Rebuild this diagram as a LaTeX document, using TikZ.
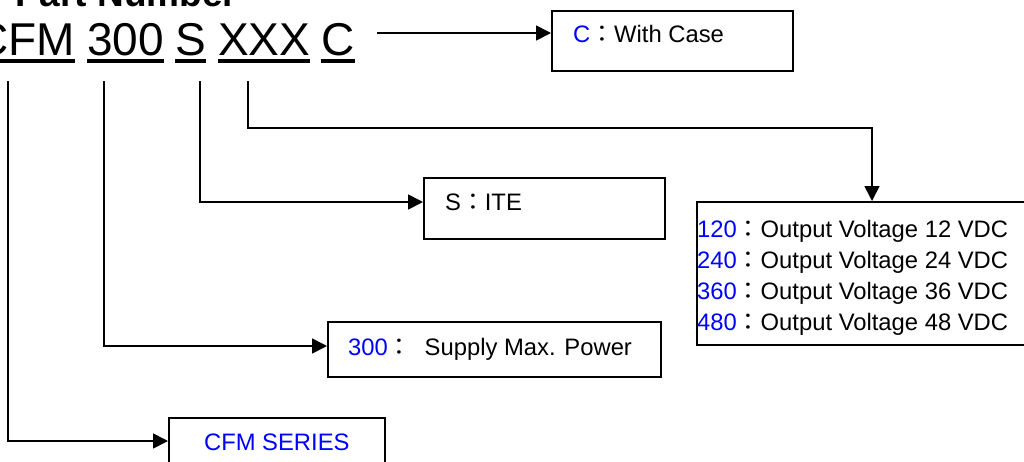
\documentclass[tikz,border=0pt]{standalone}
\usepackage{fontspec}
\setmainfont{Liberation Sans}
\newfontfamily\cjk{Noto Sans CJK TC}
\usetikzlibrary{arrows.meta}
\definecolor{pblue}{RGB}{0,0,255}
\newcommand{\fwc}{{\cjk ：}}
\begin{document}
\begin{tikzpicture}[x=1pt,y=-1pt,
  box/.style={draw, line width=1.6pt, inner sep=0, anchor=north west},
  conn/.style={line width=1.7pt, -{Triangle[length=15pt,width=15pt]}},
  uline/.style={line width=3.5pt},
  word/.style={font=\fontsize{46}{50}\selectfont, inner sep=0, anchor=base west},
  txt/.style={font=\fontsize{23.8}{28}\selectfont, inner sep=0, anchor=base west}]
\clip (0,0) rectangle (1024,461);
\fill[white] (0,0) rectangle (1024,461);

% title
\node[font=\bfseries\fontsize{37}{40}\selectfont, inner sep=0, anchor=base west] (title) at (15,6) {Part Number};

% part number words
\node[word] (wCFM) at (-24.6,55) {CFM};
\node[word] (w300) at (87,55) {300};
\node[word] (wS) at (175,55) {S};
\node[word] (wX) at (218,55) {XXX};
\node[word] (wC) at (321,55) {C};
\foreach \w in {wCFM,w300,wS,wX,wC}
  \draw[uline] ([yshift=-6pt]\w.base west) -- ([yshift=-6pt]\w.base east);

% boxes
\node[box, minimum width=241pt, minimum height=60pt] (bC) at (551,10) {};
\node[box, minimum width=241pt, minimum height=61pt] (bS) at (423,177) {};
\node[box, minimum width=334pt, minimum height=143pt] (bV) at (696,201) {};
\node[box, minimum width=333pt, minimum height=55pt] (b300) at (327,321) {};
\node[box, minimum width=216pt, minimum height=48pt, text=pblue,
      font=\fontsize{23.8}{28}\selectfont] (bCFM) at (168,417) {CFM SERIES};

% box texts
\node[txt] (tC) at (573,42) {\textcolor{pblue}{C}\fwc With Case};
\node[txt] (tS) at (445,210) {S\fwc ITE};
\node[txt] (t300) at (348,355) {\textcolor{pblue}{300}\fwc\hspace{13pt}Supply Max. Power};
\begin{scope}
  \clip (690,190) rectangle (1024,334);
  \node[txt] (v1) at (697,237) {\textcolor{pblue}{120}\fwc Output Voltage 12 VDC};
  \node[txt] (v2) at (697,268) {\textcolor{pblue}{240}\fwc Output Voltage 24 VDC};
  \node[txt] (v3) at (697,299) {\textcolor{pblue}{360}\fwc Output Voltage 36 VDC};
  \node[txt] (v4) at (697,330) {\textcolor{pblue}{480}\fwc Output Voltage 48 VDC};
\end{scope}

% connector points
\coordinate (sC) at (377,33);
\coordinate (sCFM) at (8,81);
\coordinate (cCFM) at (8,441);
\coordinate (s300) at (104,81);
\coordinate (c300) at (104,346);
\coordinate (sS) at (200,81);
\coordinate (cS) at (200,202);
\coordinate (sX) at (248,81);
\coordinate (cX) at (248,128);
\coordinate (tX) at (872,128);

% connectors
\draw[conn] (sC) -- (sC -| bC.west);
\draw[conn] (sCFM) -- (cCFM) -- (cCFM -| bCFM.west);
\draw[conn] (s300) -- (c300) -- (c300 -| b300.west);
\draw[conn] (sS) -- (cS) -- (cS -| bS.west);
\draw[conn] (sX) -- (cX) -- (tX) -- (tX |- bV.north);
\end{tikzpicture}
\end{document}
